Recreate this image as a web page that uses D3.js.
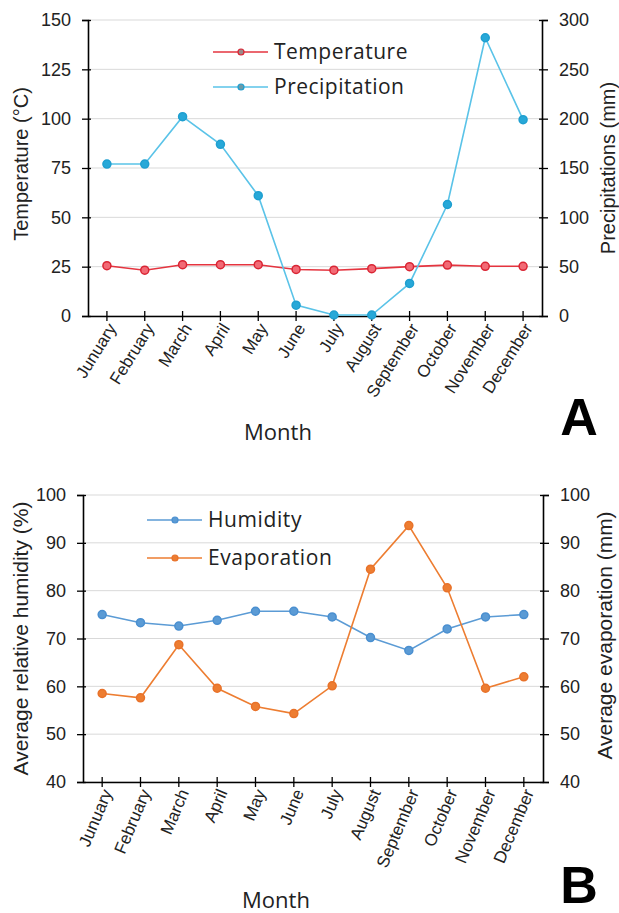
<!DOCTYPE html>
<html>
<head>
<meta charset="utf-8">
<script src="https://cdn.jsdelivr.net/npm/d3@7"></script>
<style>
  body { margin: 0; background: #fff; }
  svg text { font-family: "Liberation Sans", Arial, sans-serif; }
</style>
</head>
<body>
<script>
// Months (the typo "Junuary" is in the original figure)
const months = ['Junuary', 'February', 'March', 'April', 'May', 'June', 'July',
    'August', 'September', 'October', 'November', 'December'];

// Panel A
const temperature = [25.5, 23.2, 26, 26, 26, 23.6, 23.2, 24, 25, 25.8, 25.2, 25.2];
const precipitation = [154, 154, 202, 174, 122, 11, 1, 1, 33, 113, 282, 199];
const tempTicks = [0, 25, 50, 75, 100, 125, 150];
const precTicks = [0, 50, 100, 150, 200, 250, 300];

// Panel B
const humidity = [75, 73.3, 72.6, 73.8, 75.7, 75.7, 74.5, 70.2, 67.5, 72, 74.5, 75];
const evaporation = [58.5, 57.6, 68.7, 59.6, 55.8, 54.3, 60.1, 84.5, 93.6, 80.6, 59.6, 62];
const pctTicks = [40, 50, 60, 70, 80, 90, 100];

const svg = d3.select('body')
    .append('svg')
    .attr('width', 619)
    .attr('height', 913);

function panel(opt) {
    const g = svg.append('g');
    const x = d3.scaleBand().domain(months).range([opt.left, opt.right]);
    const cx = d => x(d) + x.bandwidth() / 2;
    const yL = d3.scaleLinear().domain(opt.leftDomain).range([opt.bottom, opt.top]);
    const yR = d3.scaleLinear().domain(opt.rightDomain).range([opt.bottom, opt.top]);

    // grid
    g.append('g')
        .selectAll('line')
        .data(opt.leftTicks)
        .join('line')
        .attr('x1', opt.left).attr('x2', opt.right)
        .attr('y1', d => yL(d)).attr('y2', d => yL(d))
        .attr('stroke', '#d9d9d9').attr('stroke-width', 1);

    // left axis
    const ax = g.append('g')
        .attr('transform', `translate(${opt.left},0)`)
        .call(d3.axisLeft(yL).tickValues(opt.leftTicks).tickSize(6).tickPadding(11));
    ax.selectAll('.tick line').attr('x2', -6).attr('x1', 3);

    // right axis
    const ar = g.append('g')
        .attr('transform', `translate(${opt.right},0)`)
        .call(d3.axisRight(yR).tickValues(opt.rightTicks).tickSize(6).tickPadding(11));
    ar.selectAll('.tick line').attr('x2', 6).attr('x1', -3);

    g.selectAll('.tick text').style('font-size', '18px');

    // bottom axis
    const ab = g.append('g')
        .attr('transform', `translate(0,${opt.bottom})`)
        .call(d3.axisBottom(x).tickSize(5).tickSizeOuter(0).tickPadding(8));
    ab.selectAll('.tick line').attr('y1', -5).attr('y2', 5);
    ab.selectAll('.tick text')
        .attr('text-anchor', 'end')
        .attr('dy', '0.35em')
        .attr('transform', `translate(5,${opt.labelDy}) rotate(${opt.rot})`)
        .attr('y', 0)
        .style('font-size', '17px');

    g.selectAll('.domain').attr('stroke', '#000').attr('stroke-width', 1.6);
    g.selectAll('.tick line').attr('stroke', '#000').attr('stroke-width', 1.3);
    g.selectAll('.tick text').attr('fill', '#222')
        .style('font-family', '"Liberation Sans", Arial, sans-serif');

    // series
    opt.series.forEach(s => {
        const y = s.axis === 'left' ? yL : yR;
        g.append('path')
            .datum(s.values)
            .attr('fill', 'none')
            .attr('stroke', s.color)
            .attr('stroke-width', 1.6)
            .attr('d', d3.line().x((d, i) => cx(months[i])).y(d => y(d)));
        g.append('g')
            .selectAll('circle')
            .data(s.values)
            .join('circle')
            .attr('cx', (d, i) => cx(months[i]))
            .attr('cy', d => y(d))
            .attr('r', 4)
            .attr('fill', s.fill)
            .attr('stroke', s.stroke)
            .attr('stroke-width', 1.5);
    });

    // legend
    opt.series.forEach((s, i) => {
        const ly = opt.legendY + i * opt.legendGap;
        g.append('line')
            .attr('x1', opt.legendX).attr('x2', opt.legendX + 55)
            .attr('y1', ly).attr('y2', ly)
            .attr('stroke', s.color).attr('stroke-width', 1.6);
        g.append('circle')
            .attr('cx', opt.legendX + 28).attr('cy', ly).attr('r', 3)
            .attr('fill', s.legendFill).attr('stroke', s.stroke).attr('stroke-width', 1.2);
        g.append('text')
            .attr('x', opt.legendX + 61).attr('y', ly)
            .attr('dy', '0.35em')
            .style('font-family', '"Open Sans", "Noto Sans", sans-serif')
            .style('font-size', opt.legendSize)
            .style('letter-spacing', opt.legendSpacing)
            .attr('fill', '#222')
            .text(s.name);
    });

    // axis titles
    g.append('text')
        .attr('transform', `translate(${opt.leftTitleX},${(opt.top + opt.bottom) / 2 + opt.leftTitleDy}) rotate(-90)`)
        .attr('text-anchor', 'middle')
        .style('font-size', opt.titleSize).attr('fill', '#222')
        .text(opt.leftTitle);
    g.append('text')
        .attr('transform', `translate(${opt.rightTitleX},${(opt.top + opt.bottom) / 2 + opt.rightTitleDy}) rotate(-90)`)
        .attr('text-anchor', 'middle')
        .style('font-size', opt.titleSize).attr('fill', '#222')
        .text(opt.rightTitle);
    g.append('text')
        .attr('x', opt.monthX).attr('y', opt.monthY)
        .attr('text-anchor', 'middle')
        .style('font-family', '"Open Sans", "Noto Sans", sans-serif')
        .style('font-size', '22px').attr('fill', '#222')
        .text('Month');
    g.append('text')
        .attr('x', 579).attr('y', opt.letterY)
        .attr('text-anchor', 'middle')
        .style('font-family', '"Liberation Sans", Arial, sans-serif')
        .style('font-size', '52px').style('font-weight', 'bold')
        .text(opt.letter);
}

panel({
    left: 88, right: 542, top: 20, bottom: 316,
    leftDomain: [0, 150], rightDomain: [0, 300],
    leftTicks: tempTicks, rightTicks: precTicks,
    rot: -58, labelDy: 9,
    series: [
        { name: 'Temperature', values: temperature, axis: 'left', color: '#e5343f', fill: '#f26a75', stroke: '#d92534', legendFill: '#9a8a8a' },
        { name: 'Precipitation', values: precipitation, axis: 'right', color: '#5ac3e8', fill: '#27a8d8', stroke: '#1f9fd0', legendFill: '#6d9aa8' }
    ],
    legendX: 213, legendY: 52, legendGap: 35, legendSize: '21px', legendSpacing: '0.5px',
    titleSize: '20px',
    leftTitle: 'Temperature (°C)', leftTitleX: 28, leftTitleDy: -4,
    rightTitle: 'Precipitations (mm)', rightTitleX: 615, rightTitleDy: 0,
    monthX: 278, monthY: 440,
    letter: 'A', letterY: 435
});

panel({
    left: 83, right: 543, top: 495, bottom: 782,
    leftDomain: [40, 100], rightDomain: [40, 100],
    leftTicks: pctTicks, rightTicks: pctTicks,
    rot: -67, labelDy: 8,
    series: [
        { name: 'Humidity', values: humidity, axis: 'left', color: '#5b9bd5', fill: '#5b9bd5', stroke: '#4a8fd0', legendFill: '#5b9bd5' },
        { name: 'Evaporation', values: evaporation, axis: 'right', color: '#ed7d31', fill: '#ed7d31', stroke: '#e8722a', legendFill: '#ed7d31' }
    ],
    legendX: 147, legendY: 520, legendGap: 38, legendSize: '21px', legendSpacing: '0.6px',
    titleSize: '21px',
    leftTitle: 'Average relative humidity (%)', leftTitleX: 28, leftTitleDy: 0,
    rightTitle: 'Average evaporation (mm)', rightTitleX: 612, rightTitleDy: -3,
    monthX: 276, monthY: 908,
    letter: 'B', letterY: 903
});
</script>
</body>
</html>
